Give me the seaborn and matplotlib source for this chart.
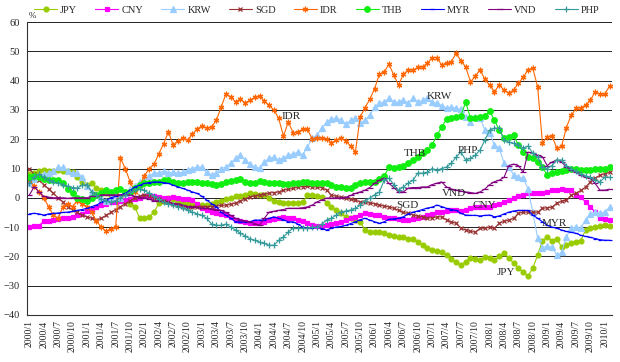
import matplotlib
matplotlib.use("Agg")
import matplotlib.pyplot as plt
import pandas as pd
import seaborn as sns

# Monthly categories 2000/1 .. 2010/2
months = pd.period_range("2000-01", periods=122, freq="M")
categories = [f"{p.year}/{p.month}" for p in months]
tick_labels = categories[::3][:41]

jpy = [8, 8.5, 9, 9.4, 9, 9, 9.5, 9, 9, 8.7, 7, 5.4, 4.3, 4.9, 3.5, 2.5, 1.5, 0.5, 1, 0,
       -1, -2, -3.1, -7, -7, -6.5, -4.9, -1.9, -1, 0, -0.5, -1, -1.5, -2, -2.6, -2.6,
       -2.6, -2.5, -2, -1.5, -1, -0.5, 0, 0.5, 0.5, 0.9, 1.6, 1.2, 1, 0.9, 0, -1, -1.5, -1.8,
       -1.8, -1.8, -1.8, -1.5, 0.9, 0.9,
       0.5, 0.2, -1.8, -3.1, -4.2, -5.3, -6.5, -7, -7.5, -8.2, -11, -11.7, -11.7, -11.7, -12.1,
       -12.8, -13, -13.4, -13.4, -13.9, -14, -15.1, -16, -17.2, -17.9, -18.2, -18.5, -19.6, -21,
       -21.9, -23, -21.9, -20.6, -21, -21.3, -20.2, -20.6, -21.3, -20, -18.9, -20.6, -22.3, -24,
       -25.4, -26.7, -24, -19.6, -14.6, -13.4, -14.6, -14, -16.8, -16.2, -15.5, -15, -14.6, -11,
       -10.4, -10, -9.7, -9.3, -9.7]
cny = [-10, -9.5, -9.5, -8, -7.8, -7.6, -7.2, -7, -7, -6.5, -5.9, -5.5, -4.5, -4, -3.2, -2.5,
       -2, -1.5, -1.5, -1, -0.8, -0.5, -0.5, 0, 0.5, 0.5, 0.5, 0.2, 0, 0, 0.2, 0, -0.3, -0.5,
       -0.8, -2, -3.6, -4, -4.9, -5.3, -5.5, -6, -6.5, -7.6, -8, -8.2, -8.7, -8.7, -8.5, -8.2,
       -7.6, -7.3, -7, -6.5, -7, -7, -7.6, -8, -8.7, -9.4, -9.6, -9.7, -9.4, -9, -8.7, -8.2,
       -7.6, -7, -6.5, -6, -5.3, -5.6, -6, -6, -6.5, -7, -7, -7.3, -7.6, -7.6, -7.3, -7, -6.5,
       -5.9, -5.5, -5, -4.9, -4.5, -4.3, -4.3, -4.5, -4, -3.6, -3.2, -3.2, -3.2, -3.2, -2.5, -2,
       -1.4, -0.8, -0.1, 0.5, 0.9, 1.6, 1.6, 1.6, 1.6, 2, 2.5, 2.6, 3, 2.6, 2.6, 0.9, 0.2, -1.4,
       -3, -4.9, -7, -7.3, -7.6]
krw = [5, 6.5, 7.5, 8, 8.5, 9, 10.4, 10.4, 9, 8.5, 8.5, 7, 4, 2, 1, 0, -1, 0, 1, 0, 1.5, 3,
       4, 5.5, 6, 7.5, 8.5, 8.5, 9, 8.5, 8.7, 8.5, 8.7, 9.5, 10, 10.5,
       10.5, 8.7, 7.7, 8.5, 10, 10.5, 11.8, 13.5, 14.6, 12.9, 11.5, 10.5, 10.1, 12.2, 13.5, 13.9,
       12.9, 13.5, 14.6, 14.9, 15.6, 14.6, 17.3, 20.4, 21.4, 23.8, 25.8, 26.9, 27.2, 26.5, 25.2,
       26.5, 27.2, 25.5, 26.5, 28.2, 31, 32.3, 32.7, 34, 32.7, 32.7, 33.3, 32.3, 34, 32.7, 33.3,
       34, 32.7, 32.3, 31.5, 30.6, 31, 30.6, 30.2, 27.6, 25.8, 27.6, 27.2, 23.1, 22.1, 18, 17,
       11.8, 10.6, 7.7, 7, 6.7, 3, -5, -13.7, -17, -16.5, -16.8, -19.6, -18.6, -13.4, -10.3, -10,
       -10.3, -7.6, -5.5, -4.9, -5.3, -4.9, -3.2]
sgd = [10, 8, 6, 4.5, 3, 1.5, 0, -1.5, -3, -4, -5, -6, -6.5, -7, -7.5, -7, -6, -5, -4, -3, -2,
       -1, 0, 0.5, 1, 0.5, 0, -0.5, -1, -1.5, -2, -2.5, -3, -3, -3, -3.1,
       -3.1, -3, -3, -2.8, -2.6, -2.5, -2.2, -1.8, -1, -0.5, 0.3, 0.6, 0.9, 1.3, 1.6, 1.8, 2, 2.6,
       2.9, 3.2, 3.7, 3.8, 4, 3.7, 3.7, 3.5, 2.6, 0.9, 0.5, 0.2, -0.1, -0.5, -0.8, -1.4, -1.6,
       -1.8, -2, -2.5, -2.8, -3.1,
       -3.6, -4.3, -5, -5.3, -5.9, -6.2, -6.5, -7, -6.8, -6.5, -6.5, -7.6, -8.2, -8.7, -10.4, -11,
       -11.5, -11.7, -10.4, -10.4, -10, -10.4, -8.7, -8, -7.6, -7, -5.3, -4.9, -4.9, -4.9, -4.9,
       -3.6, -3.4, -3.2, -1.8, -1.2, -0.8, 0.9, 1.5, 2.5, 3.7, 5.4, 6.7, 7.7, 8.2, 8.7]
idr = [6, 4, 2, 0, -3, -6, -7, -3, -2, -3, -1, -2, -3, -5, -8, -10, -11.5, -10.5, -10, 13.5,
       10, 5.5, 2, 4, 7.5, 10, 11.5, 15, 18.5, 22.5, 18, 19.5, 20.4, 19.7, 21.7, 23.5,
       24.5, 23.8, 24.2, 26.5, 31, 35.4, 34.4, 32.8, 33.7, 32.4, 33.3, 34.3, 34.7, 33, 31.6, 29.9,
       27.1, 21, 26, 22.2, 22.5, 23.4, 23.4, 20, 20.4, 20.4, 20, 18.8, 19.7, 20.4, 19.5, 17.6,
       15.7, 27.6, 30.8, 33.6, 37.3, 42.2, 43, 45.6, 41.9, 38.5,
       42.2, 43.6, 43.6, 44.5, 44.7, 45.9, 47.9, 47.9, 45.3, 46.1, 46.5,
       49.3, 46.8, 44.7, 39.6, 41.5, 43.8, 40.4, 38.5, 36.2, 38.5, 36.8, 35.8, 36.8, 39.2, 41.1,
       43.8, 44.2, 37.9,
       18.8, 20.8, 21.1, 16.9, 17.6, 24, 28.2, 30.5, 30.8, 31.6, 33.3, 36.2, 35.4, 35.4, 38.1]
thb = [7, 7.5, 7, 6.5, 6, 6, 6, 5, 3, 1.5, 0, -0.5, -1, 0, 1, 1.5, 2.5, 2, 2.5, 3, 2, 2, 3.5,
       4.3, 5, 5, 5.5, 5.5, 6, 6, 5.5, 5, 5, 5.5, 5.5, 5.4,
       5.2, 4.9, 4.6, 4.3, 4.8, 5.4, 5.8, 6, 6.3, 5.5, 5, 5, 5.7, 5.4, 5.2, 5, 4.9, 4.8, 4.6, 5,
       5.2, 5.3, 5.4, 5, 5, 5, 4.9, 4.5, 3.6, 3.6, 3.3, 3.5, 4.3, 4.9,
       5.4, 5.4, 5.4, 6.5, 7.4, 10.5, 10.1, 10.5, 11, 11.8, 12.9, 13.9, 15.2, 16.3, 18, 21.4,
       24.2, 26.9, 27.2, 27.6, 28, 32.7, 27.2, 27.2, 27.6, 28, 29.6, 26.5, 23.1, 20.4, 20.7,
       21.4, 18, 15.6, 13.9, 13.5, 12.2, 10.5, 7.7, 8.4, 8.7, 9, 9.5, 10, 10, 9.5, 9.5, 9.5, 9.7,
       10, 10, 10.5]
myr = [-5.5, -5.3, -5.5, -5.9, -5.5, -5.3, -5.2, -5, -4.9, -4.6, -4.3, -4, -3.6, -3, -2.5,
       -1.5, -0.8, 0, 0.5, 1, 1.5, 2.5, 3.7, 4.3, 4.9, 5.2, 5.4, 5.4, 5.2, 4.9, 4.3, 3.7, 3.2,
       2.6, 2, 1.5,
       0.5, -0.8, -2, -3.1, -4.9, -6, -7, -8.2, -8.2, -8.2, -8.2, -7.6, -7.6, -7.6, -7, -6.5,
       -7, -7.5, -8.2, -8.2, -9, -10, -10.4, -10.4, -10, -10.5, -11, -10.4, -10, -9.8, -9.4,
       -8.8, -8.2, -7.5, -7, -7.6, -8.2, -8.7, -8.2, -7.3, -7.2, -7, -6.5, -5.5, -4.9, -4.5, -4,
       -3.5, -3.2, -2.5, -3, -3.6, -4, -4.3, -5.3, -5.9, -6, -6, -6.2, -6, -5.9, -6.5, -6.2,
       -5.5, -4.9, -4.5, -4.3,
       -4.3, -4.3, -5.9, -7, -8.2, -9.4, -10, -10.4, -11, -11.5, -11.8, -12.1, -12.8, -13.2,
       -13.5, -13.9, -14.3, -14.5, -14.5]
vnd = [1, 3.7, 2, 0.5, 0.2, 0, 0, 0, -0.2, 0, 0, 0, 0, 0.5, 0.5, 1, 1, 1, 1, 1, 1, 1, 0.5, 0,
       0, -0.5, -1, -1, -1.5, -1.5, -2, -2, -2.5, -3, -3, -3.3, -3.6, -3.6, -3.8, -4, -4.3, -5,
       -6, -7, -7.6, -7.9, -8.2, -8.8, -9.4, -7, -4.9, -4.6, -4.3, -4, -3.6, -3.6, -3.6, -3.4,
       -3.1, -2.5, -1.4, -0.7, -0.1, -0.1, -0.1, 0, 0.2, 0.8, 1.5, 2, 2.6, 3.5, 4.9, 6, 6.7, 4.9,
       3.5, 2, 2, 3.3, 3.5, 3.5, 3.7, 3.7, 4.5, 5, 5.4, 3.7, 3, 2.6, 2.3, 2, 1.8, 1.5, 2, 3, 4.5,
       5.5, 6, 7, 11, 11.5, 11, 8.7, 15.6, 15.2, 14.5, 14, 11, 12.2, 12.9, 12.2, 10.5, 9.5, 8.7,
       7.7, 7, 6.7, 4.9, 2.6, 2.6, 2.9]
php = [5, 7, 8, 7, 6, 5.4, 5, 4.5, 4, 3.5, 3.3, 4.3, 4.5, 2, 0.9, -0.5, -1, -1.5, -1, 0, 1, 2,
       2.5, 3, 2.5, 1.5, 0.5, -0.5, -1.5, -2, -2.5, -3, -3.5, -4.2, -4.9, -5.5,
       -6, -7, -9, -9.4, -9.4, -9, -10, -11, -12.1, -13, -14, -14.5, -15.1, -15.6, -16.2, -16.2,
       -14.5, -13.4, -11.7, -10.4, -10.4, -10.4, -10.4, -10,
       -10, -9, -7.6, -7, -5.9, -4.9, -4.5, -4.2, -3.6, -2.5, -1, -0.1, 1, 2, 6, 6.7, 4.5, 2.6,
       3.7, 5, 6, 8.4, 8.4, 8.7, 10, 9.4, 10, 10.5, 11.8, 13.9, 15.6, 12.9, 13.5, 14.5, 16.3,
       19.7, 23.1, 23.8, 23.8, 19.7, 19, 18.6, 18, 17, 17.6, 15.2, 13.9, 10.5, 10, 11, 12.9,
       12.9, 11, 10, 9, 8, 7.5, 7, 6, 5.4, 7, 7]

series = {"JPY": jpy, "CNY": cny, "KRW": krw, "SGD": sgd, "IDR": idr,
          "THB": thb, "MYR": myr, "VND": vnd, "PHP": php}

styles = {
    "JPY": dict(color="#99CC00", marker="o", markersize=3.5),
    "CNY": dict(color="#FF00FF", marker="s", markersize=3.3),
    "KRW": dict(color="#99CCFF", marker="^", markersize=3.8),
    "SGD": dict(color="#993333", marker="x", markersize=3),
    "IDR": dict(color="#FF6600", marker=(6, 2, 0), markersize=4),
    "THB": dict(color="#11EE11", marker="o", markersize=4),
    "MYR": dict(color="#0000FF", marker="_", markersize=3),
    "VND": dict(color="#800080", marker="_", markersize=4.5),
    "PHP": dict(color="#339999", marker="+", markersize=4),
}

# in-plot labels (month index, value)
annot = {"IDR": (54.5, 27.6), "KRW": (85.5, 34.7), "THB": (80.5, 15.2), "PHP": (91.5, 16.3),
         "VND": (88.5, 1.6), "SGD": (78.8, -2.8), "CNY": (94.8, -2.7), "MYR": (109.5, -8.7),
         "JPY": (99.5, -25.4)}

df = pd.DataFrame(series)
df["idx"] = range(len(categories))

sns.set_style("white")
plt.rcParams["font.family"] = ["Liberation Serif", "DejaVu Serif"]

fig = plt.figure(figsize=(6.2, 3.62), dpi=100)
ax = fig.add_axes([0.0435, 0.130, 0.9435, 0.809])

for name in series:
    st = styles[name]
    sns.lineplot(data=df, x="idx", y=name, ax=ax, label=name, color=st["color"],
                 marker=st["marker"], markersize=st["markersize"],
                 markeredgecolor=st["color"], markeredgewidth=0.9, linewidth=0.8)

ax.set_xlim(-0.5, 121.5)
ax.set_ylim(-40, 60)
ax.set_yticks(range(-40, 61, 10))
ax.set_xticks(range(0, 121, 3))
ax.set_xticklabels(tick_labels, rotation=90, fontsize=7)
ax.tick_params(axis="y", labelsize=7.5, length=2, pad=3)
ax.tick_params(axis="x", length=0, pad=4)
ax.set_xlabel("")
ax.set_ylabel("")
ax.yaxis.grid(True, color="#222222", linewidth=0.7)
ax.set_axisbelow(True)
for s in ["top", "right"]:
    ax.spines[s].set_visible(False)
ax.spines["left"].set_color("#333333")
ax.spines["bottom"].set_color("#333333")

for name, (mx, my) in annot.items():
    ax.text(mx, my, name, fontsize=8, ha="center", va="center")

handles, labels = ax.get_legend_handles_labels()
ax.get_legend().remove()
fig.legend(handles, labels, loc="center", bbox_to_anchor=(0.511, 0.972), ncol=9,
           frameon=False, fontsize=7.5, handlelength=2.2, columnspacing=1.75,
           handletextpad=0.3, borderaxespad=0.1)

fig.text(0.047, 0.955, "%", fontsize=6.5, ha="left", va="center")

fig.savefig("out.png", dpi=100)
